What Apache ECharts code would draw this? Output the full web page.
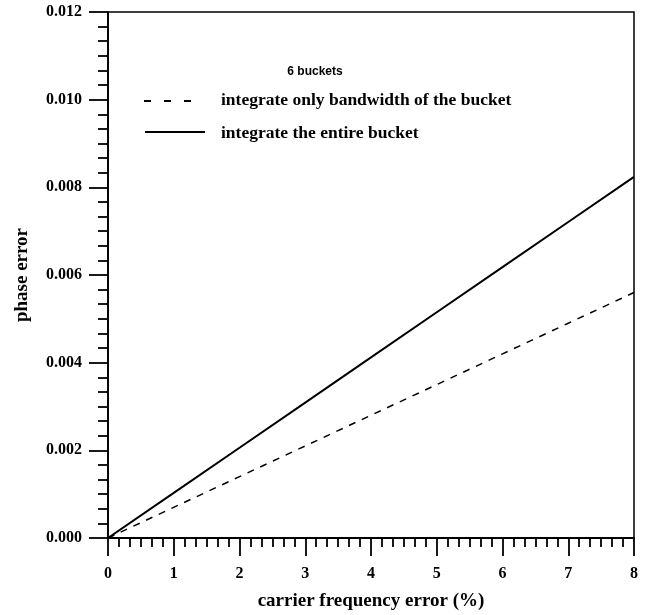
<!DOCTYPE html>
<html><head><meta charset="utf-8">
<script src="https://cdn.jsdelivr.net/npm/echarts@6/dist/echarts.min.js"></script>
<style>html,body{margin:0;padding:0;background:#fff}#c{width:648px;height:615px}</style>
</head><body><div id="c"></div>
<script>
var freqError = [0, 1, 2, 3, 4, 5, 6, 7, 8];
var bandwidthOnly = [0, 0.0007, 0.0014, 0.0021, 0.0028, 0.0035, 0.0042, 0.0049, 0.0056];
var entireBucket = [0, 0.00103, 0.00206, 0.00309, 0.00412, 0.00515, 0.00618, 0.00721, 0.00824];
var xTicks = ['0','1','2','3','4','5','6','7','8'];
var yTicks = ['0.000','0.002','0.004','0.006','0.008','0.010','0.012'];

function pairs(xs, ys){ return xs.map(function(x,i){ return [x, ys[i]]; }); }
var serif = 'Liberation Serif';
var chart = echarts.init(document.getElementById('c'));
chart.setOption({
  animation: false,
  grid: {left: 108, top: 12, right: 14, bottom: 77, outerBoundsMode: 'none', containLabel: false,
    show: true, borderColor: '#000', borderWidth: 1.5, backgroundColor: 'transparent'},
  xAxis: {
    type: 'value', min: 0, max: 8, interval: 1,
    name: 'carrier frequency error (%)', nameLocation: 'middle', nameGap: 54,
    nameTextStyle: {fontFamily: serif, fontWeight: 'bold', fontSize: 19, color: '#000'},
    axisLine: {lineStyle: {color: '#000', width: 1.8}},
    axisTick: {length: 18, lineStyle: {color: '#000', width: 1.8}},
    minorTick: {show: true, splitNumber: 6, length: 9, lineStyle: {color: '#000', width: 1.8}},
    splitLine: {show: false},
    axisLabel: {margin: 28, fontFamily: serif, fontWeight: 'bold', fontSize: 16, color: '#000',
      formatter: function(v){ return xTicks[Math.round(v)]; }}
  },
  yAxis: {
    type: 'value', min: 0, max: 0.012, interval: 0.002,
    name: 'phase error', nameLocation: 'middle', nameGap: 76, nameRotate: 90,
    nameTextStyle: {fontFamily: serif, fontWeight: 'bold', fontSize: 19, color: '#000'},
    axisLine: {lineStyle: {color: '#000', width: 1.8}},
    axisTick: {length: 19, lineStyle: {color: '#000', width: 1.8}},
    minorTick: {show: true, splitNumber: 6, length: 10, lineStyle: {color: '#000', width: 1.8}},
    splitLine: {show: false},
    axisLabel: {margin: 26, fontFamily: serif, fontWeight: 'bold', fontSize: 16, color: '#000',
      formatter: function(v){ return yTicks[Math.round(v/0.002)]; }}
  },
  graphic: [
    {type: 'text', x: 315, y: 72, style: {text: '6 buckets', textAlign: 'center', textVerticalAlign: 'middle', fontFamily: 'Liberation Sans', fontWeight: 'bold', fontSize: 12, fill: '#000'}},
    {type: 'line', shape: {x1: 144, y1: 101, x2: 191, y2: 101}, style: {stroke: '#000', lineWidth: 1.8, lineDash: [7, 13]}},
    {type: 'text', x: 221, y: 100, style: {text: 'integrate only bandwidth of the bucket', textVerticalAlign: 'middle', fontFamily: serif, fontWeight: 'bold', fontSize: 17.5, fill: '#000'}},
    {type: 'line', shape: {x1: 145, y1: 132, x2: 205, y2: 132}, style: {stroke: '#000', lineWidth: 1.8}},
    {type: 'text', x: 221, y: 133, style: {text: 'integrate the entire bucket', textVerticalAlign: 'middle', fontFamily: serif, fontWeight: 'bold', fontSize: 17.5, fill: '#000'}}
  ],
  series: [
    {type: 'line', data: pairs(freqError, bandwidthOnly), symbol: 'none', lineStyle: {color: '#000', width: 1.5, type: [7, 7]}},
    {type: 'line', data: pairs(freqError, entireBucket), symbol: 'none', lineStyle: {color: '#000', width: 2}}
  ]
});
</script></body></html>
